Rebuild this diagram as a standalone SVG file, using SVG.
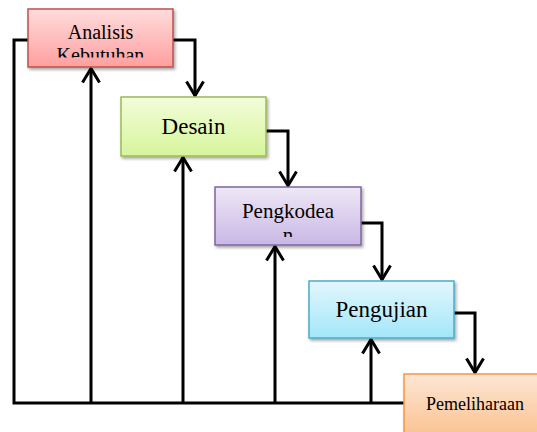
<svg xmlns="http://www.w3.org/2000/svg" width="537" height="432" viewBox="0 0 537 432">
<style>
.box{stroke-width:1.5}
.lbl{font-family:"Liberation Serif","Times New Roman",serif;fill:#000;text-anchor:middle}
.conn{fill:none;stroke:#000;stroke-width:3}
</style>
<defs>
<filter id="sh" x="-10%" y="-10%" width="130%" height="140%">
<feDropShadow dx="1.5" dy="2" stdDeviation="1.5" flood-color="#000" flood-opacity="0.35"/>
</filter>
<linearGradient id="g1" x1="0" y1="0" x2="0" y2="1"><stop offset="0" stop-color="#ffdcdc"/><stop offset="1" stop-color="#ff9f9f"/></linearGradient>
<linearGradient id="g2" x1="0" y1="0" x2="0" y2="1"><stop offset="0" stop-color="#f3fcd9"/><stop offset="1" stop-color="#d6f59c"/></linearGradient>
<linearGradient id="g3" x1="0" y1="0" x2="0" y2="1"><stop offset="0" stop-color="#eee8f6"/><stop offset="1" stop-color="#c9b7e6"/></linearGradient>
<linearGradient id="g4" x1="0" y1="0" x2="0" y2="1"><stop offset="0" stop-color="#e3f7fd"/><stop offset="1" stop-color="#a3e6fa"/></linearGradient>
<linearGradient id="g5" x1="0" y1="0" x2="0" y2="1"><stop offset="0" stop-color="#fde6d4"/><stop offset="1" stop-color="#fbc292"/></linearGradient>
<marker id="chev" viewBox="-17 -11 20 22" refX="0" refY="0" markerWidth="20" markerHeight="22" markerUnits="userSpaceOnUse" orient="auto">
<path d="M-14,-8.5 L0,0 L-14,8.5" fill="none" stroke="#000" stroke-width="3"/>
</marker>
<clipPath id="c1"><rect x="28" y="9" width="145" height="48.5"/></clipPath>
<clipPath id="c3"><rect x="215" y="187" width="146" height="50"/></clipPath>
</defs>
<g id="connectors">
<path class="conn" d="M28,40 H14 V403 H404"/>
<path class="conn" d="M91,403 V68.5" marker-end="url(#chev)"/>
<path class="conn" d="M183,403 V157.5" marker-end="url(#chev)"/>
<path class="conn" d="M275,403 V246.5" marker-end="url(#chev)"/>
<path class="conn" d="M371,403 V339.5" marker-end="url(#chev)"/>
<path class="conn" d="M173,40 H195 V95.5" marker-end="url(#chev)"/>
<path class="conn" d="M266,131 H288 V185.5" marker-end="url(#chev)"/>
<path class="conn" d="M361,223 H382 V279.5" marker-end="url(#chev)"/>
<path class="conn" d="M454,313 H475 V372.5" marker-end="url(#chev)"/>
</g>
<g id="analisis">
<rect class="box" x="28" y="9" width="145" height="58" fill="url(#g1)" stroke="#c0504d" filter="url(#sh)"/>
<g clip-path="url(#c1)">
<text class="lbl" x="100.5" y="39" font-size="20">Analisis</text>
<text class="lbl" x="100.5" y="62" font-size="20">Kebutuhan</text>
</g>
</g>
<g id="desain">
<rect class="box" x="121" y="97" width="145" height="59" fill="url(#g2)" stroke="#9bbb59" filter="url(#sh)"/>
<text class="lbl" x="193.5" y="134" font-size="23">Desain</text>
</g>
<g id="pengkodean">
<rect class="box" x="215" y="187" width="146" height="58" fill="url(#g3)" stroke="#8064a2" filter="url(#sh)"/>
<g clip-path="url(#c3)">
<text class="lbl" x="288" y="218" font-size="21">Pengkodea</text>
<text class="lbl" x="288" y="242" font-size="21">n</text>
</g>
</g>
<g id="pengujian">
<rect class="box" x="309" y="281" width="145" height="57" fill="url(#g4)" stroke="#4bacc6" filter="url(#sh)"/>
<text class="lbl" x="381.5" y="317" font-size="23">Pengujian</text>
</g>
<g id="pemeliharaan">
<rect class="box" x="404" y="374" width="142" height="62" fill="url(#g5)" stroke="#f79646" filter="url(#sh)"/>
<text class="lbl" x="475" y="409.5" font-size="18">Pemeliharaan</text>
</g>
</svg>
